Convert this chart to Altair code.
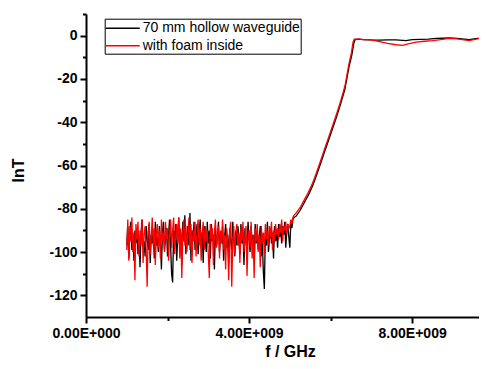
import altair as alt
import numpy as np
import pandas as pd

# ---- data ----
series_names = ["70 mm hollow waveguide", "with foam inside"]
series_colors = ["#000000", "#ff0000"]

# noise floor sampled from 1.0 GHz to 5.1 GHz, 25 MHz step
f_noise = np.round(np.arange(1.0e9, 5.1e9 + 1, 0.025e9))

black_noise = [
    -97, -88, -103, -92, -86, -99, -94, -104, -90, -96,
    -89, -101, -93, -107, -91, -85, -98, -95, -102, -88,
    -94, -99, -87, -105, -92, -96, -90, -103, -86, -97,
    -93, -100, -88, -95, -108, -91, -86, -99, -94, -89,
    -102, -92, -85, -97, -110, -114, -90, -96, -87, -104,
    -93, -84, -99, -91, -106, -86, -95, -83, -101, -92,
    -88, -97, -82, -104, -90, -95, -86, -99, -92, -87,
    -101, -93, -85, -98, -91, -105, -88, -94, -100, -86,
    -96, -90, -103, -87, -95, -92, -108, -89, -97, -93,
    -86, -100, -91, -96, -88, -104, -93, -87, -98, -92,
    -105, -89, -95, -99, -86, -94, -102, -90, -97, -88,
    -93, -101, -87, -96, -91, -106, -89, -95, -99, -86,
    -94, -100, -88, -97, -92, -104, -87, -96, -90, -99,
    -93, -88, -102, -95, -109, -117, -91, -97, -86, -100,
    -94, -89, -96, -91, -103, -88, -95, -90, -98, -87,
    -93, -89, -96, -88, -92, -86, -98, -90, -87, -93,
    -98, -86, -89, -85, -84,
]

red_noise = [
    -99, -85, -104, -88, -95, -84, -100, -91, -113, -87,
    -94, -86, -102, -90, -97, -85, -105, -92, -88, -99,
    -116, -91, -86, -101, -93, -84, -97, -89, -106, -92,
    -87, -98, -90, -103, -85, -95, -91, -100, -86, -94,
    -89, -104, -92, -85, -98, -90, -84, -101, -93, -87,
    -96, -84, -103, -89, -112, -91, -85, -97, -88, -100,
    -92, -84, -99, -87, -105, -90, -95, -86, -102, -91,
    -85, -97, -89, -104, -92, -86, -99, -88, -95, -90,
    -101, -112, -87, -94, -89, -106, -91, -85, -98, -93,
    -88, -103, -90, -96, -85, -99, -92, -108, -89, -94,
    -113, -90, -86, -116, -95, -88, -101, -92, -87, -97,
    -91, -105, -89, -95, -86, -100, -93, -88, -111, -94,
    -90, -98, -86, -103, -92, -112, -89, -95, -87, -100,
    -92, -107, -88, -96, -91, -101, -87, -94, -90, -97,
    -88, -93, -86, -99, -90, -95, -87, -92, -89, -94,
    -87, -91, -85, -95, -88, -90, -86, -92, -87, -89,
    -88, -85, -87, -84, -83,
]

# cut-off rise and pass band
f_black_tail = [5.15e9, 5.25e9, 5.35e9, 5.45e9, 5.55e9, 5.65e9, 5.75e9, 5.85e9, 5.95e9,
                6.05e9, 6.15e9, 6.25e9, 6.35e9, 6.45e9, 6.52e9, 6.57e9, 6.60e9, 6.70e9,
                6.80e9, 7.00e9, 7.20e9, 7.40e9, 7.60e9, 7.85e9, 8.00e9, 8.20e9, 8.40e9,
                8.60e9, 8.90e9, 9.10e9, 9.40e9, 9.60e9, 9.80e9, 10.0e9]
black_tail = [-83.5, -80.8, -77.3, -73.8, -69.8, -64.8, -59.3, -53.8, -48.3,
              -42.8, -37.3, -31.3, -24.8, -14.5, -9, -3.5, -1.8, -1.6,
              -1.8, -2.0, -2.1, -2.0, -2.0, -2.3, -1.8, -1.7, -1.6,
              -1.3, -1.1, -1.3, -1.8, -1.3, -1.0, -1.2]

f_red_tail = [5.15e9, 5.25e9, 5.35e9, 5.45e9, 5.55e9, 5.65e9, 5.75e9, 5.85e9, 5.95e9,
              6.05e9, 6.15e9, 6.25e9, 6.35e9, 6.45e9, 6.51e9, 6.55e9, 6.58e9, 6.70e9,
              6.80e9, 7.00e9, 7.20e9, 7.40e9, 7.60e9, 7.77e9, 7.90e9, 8.10e9, 8.30e9,
              8.50e9, 8.70e9, 8.90e9, 9.10e9, 9.40e9, 9.60e9, 9.80e9, 10.0e9]
red_tail = [-82, -79.5, -76, -72.5, -68.5, -63.5, -58, -52.5, -47,
            -41.5, -36, -30, -23.4, -13, -8, -3, -1.6, -1.6,
            -1.8, -2.0, -2.8, -3.6, -4.2, -4.5, -3.8, -3.0, -2.6,
            -2.3, -1.8, -1.2, -1.5, -2.3, -1.5, -1.1, -1.0]

y_major = [0, -20, -40, -60, -80, -100, -120]
y_minor = [10, -10, -30, -50, -70, -90, -110]
x_major = [0, 4e9, 8e9]
x_minor = [2e9, 6e9]

# ---- build table ----
rows = []
for f, v in zip(list(f_noise) + f_black_tail, black_noise + black_tail):
    rows.append({"f": f, "v": v, "s": series_names[0]})
for f, v in zip(list(f_noise) + f_red_tail, red_noise + red_tail):
    rows.append({"f": f, "v": v, "s": series_names[1]})
df = pd.DataFrame(rows)

FONT = "Liberation Sans"
xscale = alt.Scale(domain=[0, 9.64e9], nice=False, zero=False)
yscale = alt.Scale(domain=[-130, 10], nice=False, zero=False)

lines = alt.Chart(df).mark_line(strokeWidth=1.3, clip=True).encode(
    x=alt.X("f:Q", scale=xscale,
            axis=alt.Axis(orient="bottom", values=x_major, grid=False,
                          labelExpr="datum.value == 0 ? '0.00E+000' : format(datum.value/1e9, '.2f') + 'E+009'",
                          labelFont=FONT, labelFontSize=14, labelFontWeight="bold", labelColor="black",
                          labelPadding=3, tickSize=6, tickWidth=2, tickColor="black",
                          domainColor="black", domainWidth=2, labelFlush=False,
                          title="f / GHz", titleFont=FONT, titleFontSize=16, titleFontWeight="bold",
                          titleColor="black", titleX=204, titleY=39, titleAlign="center",
                          titleBaseline="alphabetic")),
    y=alt.Y("v:Q", scale=yscale,
            axis=alt.Axis(orient="left", values=y_major, grid=False,
                          labelExpr="datum.value + ''",
                          labelFont=FONT, labelFontSize=14, labelFontWeight="bold", labelColor="black",
                          labelPadding=3, tickSize=6, tickWidth=2, tickColor="black",
                          domainColor="black", domainWidth=2, labelFlush=False,
                          title="lnT", titleFont=FONT, titleFontSize=16, titleFontWeight="bold",
                          titleColor="black", titleX=-68, titleY=156, titleAngle=270,
                          titleAlign="center", titleBaseline="middle")),
    color=alt.Color("s:N", scale=alt.Scale(domain=series_names, range=series_colors),
                    legend=alt.Legend(title=None, orient="none", legendX=18.7, legendY=4.7,
                                      symbolType="M-1,0H3", symbolSize=289, symbolStrokeWidth=1.5,
                                      labelFont=FONT, labelFontSize=14, labelColor="black",
                                      labelOffset=19, labelLimit=400,
                                      strokeColor="black", padding=0, rowPadding=0.6,
                                      fillColor="white")),
    order="f:Q",
)

minor = alt.Chart(df).mark_line(opacity=0).encode(
    x=alt.X("f:Q", scale=xscale,
            axis=alt.Axis(orient="bottom", values=x_minor, labels=False, grid=False, domain=False,
                          tickSize=3.5, tickWidth=2, tickColor="black", title=None)),
    y=alt.Y("v:Q", scale=yscale,
            axis=alt.Axis(orient="left", values=y_minor, labels=False, grid=False, domain=False,
                          tickSize=3.5, tickWidth=2, tickColor="black", title=None)),
    detail="s:N",
)

chart = alt.layer(lines, minor).resolve_axis(x="independent", y="independent").properties(
    width=393, height=303,
    autosize=alt.AutoSizeParams(type="none"),
    padding={"left": 78, "top": 6, "right": 0, "bottom": 44},
).configure_view(stroke=None)

chart.save("out.html", embed_options={"renderer": "svg", "actions": False})
